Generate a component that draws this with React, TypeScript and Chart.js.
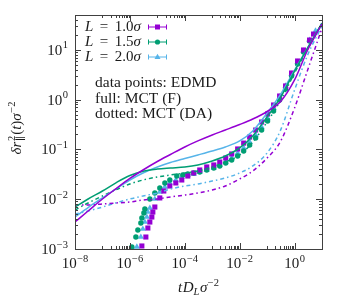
import React, { useEffect, useRef } from "react";
import { Chart, registerables } from "chart.js";

Chart.register(...registerables);

const X_MIN = 1e-8;
const X_MAX = 10;
const Y_MIN = 1e-3;
const Y_MAX = 50;
const X_TICK_EXPONENTS = [-8, -6, -4, -2, 0];
const Y_TICK_EXPONENTS = [-3, -2, -1, 0, 1];
const SERIES_LABELS = ["1.0", "1.5", "2.0"];
const COLORS = ["#9400d3", "#009e73", "#56b4e9"];
const POINT_STYLES = ["rect", "circle", "triangle"];
const NOTES = ["data points: EDMD", "full: MCT (F)", "dotted: MCT (DA)"];

// MCT curves (common time grid)
const tMCT = [1e-8, 3e-8, 1e-7, 3e-7, 1e-6, 3e-6, 1e-5, 3e-5, 1e-4, 3e-4, 1e-3, 3e-3, 1e-2, 3e-2, 1e-1, 3e-1, 1, 3, 10];
const mctF_L10 = [3.48e-3, 5.79e-3, 1.01e-2, 1.6e-2, 2.61e-2, 3.86e-2, 5.71e-2, 7.9e-2, 0.112, 0.148, 0.195, 0.245, 0.316, 0.407, 0.577, 0.895, 2.48, 9.9, 33.0];
const mctF_L15 = [6.96e-3, 1.01e-2, 1.46e-2, 2.11e-2, 3.0e-2, 3.65e-2, 4.04e-2, 4.24e-2, 4.44e-2, 4.87e-2, 5.85e-2, 7.36e-2, 0.107, 0.186, 0.448, 1.08, 3.75, 10.9, 34.5];
const mctF_L20 = [4.4e-3, 6.81e-3, 1.06e-2, 1.6e-2, 2.43e-2, 3.36e-2, 4.44e-2, 5.46e-2, 6.57e-2, 7.73e-2, 9.29e-2, 0.112, 0.148, 0.234, 0.538, 1.24, 3.93, 10.9, 34.5];
const mctDA_L10 = [7.65e-3, 7.65e-3, 8.02e-3, 8.39e-3, 8.79e-3, 9.64e-3, 1.01e-2, 1.11e-2, 1.21e-2, 1.33e-2, 1.53e-2, 1.84e-2, 2.55e-2, 3.68e-2, 6.71e-2, 0.141, 0.678, 3.93, 27.4];
const mctDA_L15 = [6.07e-3, 8.39e-3, 1.16e-2, 1.53e-2, 2.02e-2, 2.43e-2, 2.79e-2, 3.06e-2, 3.36e-2, 3.68e-2, 4.44e-2, 5.58e-2, 7.73e-2, 0.141, 0.355, 0.937, 3.42, 10.4, 34.5];
const mctDA_L20 = [5.05e-3, 5.79e-3, 6.96e-3, 8.39e-3, 1.01e-2, 1.16e-2, 1.33e-2, 1.6e-2, 1.84e-2, 2.02e-2, 2.32e-2, 2.67e-2, 3.36e-2, 4.65e-2, 8.47e-2, 0.234, 1.56, 7.87, 30.1];

// EDMD data points
const tEDMD_L10 = [2.73e-6, 3.82e-6, 4.52e-6, 5.33e-6, 6.31e-6, 6.86e-6, 8.11e-6, 1.23e-5, 1.72e-5, 2.85e-5, 4.71e-5, 7.78e-5, 1.29e-4, 2.12e-4, 3.51e-4, 6.31e-4, 1.14e-3, 1.88e-3, 3.1e-3, 5.12e-3, 8.45e-3, 1.4e-2, 2.31e-2, 3.82e-2, 6.31e-2, 0.104, 0.172, 0.285, 0.471, 0.778, 1.29, 2.12, 3.51, 4.91];
const yEDMD_L10 = [1.15e-3, 1.74e-3, 2.64e-3, 3.48e-3, 4.39e-3, 5.53e-3, 6.97e-3, 1.06e-2, 1.46e-2, 1.84e-2, 2.12e-2, 2.43e-2, 2.92e-2, 3.36e-2, 3.86e-2, 4.44e-2, 4.87e-2, 5.58e-2, 6.72e-2, 8.09e-2, 0.102, 0.134, 0.177, 0.245, 0.355, 0.514, 0.779, 1.18, 1.88, 3.42, 5.96, 9.91, 15.7, 20.7];
const tEDMD_L15 = [1.18e-6, 1.65e-6, 1.95e-6, 2.51e-6, 2.73e-6, 3.23e-6, 3.51e-6, 5.33e-6, 8.11e-6, 1.23e-5, 1.88e-5, 2.85e-5, 5.12e-5, 8.45e-5, 1.29e-4, 2.12e-4, 3.51e-4, 6.31e-4, 1.14e-3, 1.88e-3, 3.1e-3, 5.12e-3, 8.45e-3, 1.4e-2, 2.31e-2, 3.82e-2, 6.31e-2, 0.104, 0.172, 0.285, 0.471, 0.778, 1.29, 2.12, 3.51];
const yEDMD_L15 = [1.1e-3, 1.74e-3, 2.41e-3, 3.33e-3, 4.19e-3, 5.28e-3, 6.35e-3, 1.01e-2, 1.33e-2, 1.68e-2, 2.12e-2, 2.43e-2, 2.92e-2, 3.06e-2, 3.21e-2, 3.36e-2, 3.52e-2, 3.86e-2, 4.24e-2, 4.65e-2, 5.33e-2, 6.12e-2, 7.36e-2, 9.29e-2, 0.122, 0.169, 0.245, 0.372, 0.59, 0.982, 1.63, 2.98, 5.19, 9.04, 15.0];
const tEDMD_L20 = [1.8e-6, 2.51e-6, 2.97e-6, 3.51e-6, 4.15e-6, 4.52e-6, 5.33e-6, 8.11e-6, 1.23e-5, 1.88e-5, 2.85e-5, 4.71e-5, 7.78e-5, 1.29e-4, 2.12e-4, 3.51e-4, 6.31e-4, 1.14e-3, 1.88e-3, 3.1e-3, 5.12e-3, 8.45e-3, 1.4e-2, 2.31e-2, 3.82e-2, 6.31e-2, 0.104, 0.172, 0.285, 0.471, 0.778, 1.29, 2.12, 3.51, 5.8];
const yEDMD_L20 = [1.1e-3, 1.74e-3, 2.52e-3, 3.48e-3, 4.39e-3, 5.53e-3, 6.66e-3, 1.01e-2, 1.4e-2, 1.76e-2, 2.12e-2, 2.43e-2, 2.79e-2, 3.06e-2, 3.21e-2, 3.52e-2, 3.86e-2, 4.24e-2, 4.87e-2, 5.58e-2, 6.72e-2, 8.47e-2, 0.107, 0.141, 0.195, 0.282, 0.427, 0.678, 1.13, 1.88, 3.27, 5.69, 9.47, 15.7, 23.9];

const FAMILY = '"Liberation Serif", "DejaVu Serif", serif';
const RM = (s: number) => `${s}px ${FAMILY}`;
const IT = (s: number) => `italic ${s}px ${FAMILY}`;
const TEXT = "#1a1a1a";
const AXIS = "#404040";

type Seg = { t: string; f: string; dy?: number; stack?: boolean; gap?: number };

function richWidth(ctx: CanvasRenderingContext2D, segs: Seg[]) {
  let w = 0;
  for (const s of segs) {
    ctx.font = s.f;
    if (s.stack) continue;
    w += ctx.measureText(s.t).width + (s.gap || 0);
  }
  return w;
}

function drawRich(ctx: CanvasRenderingContext2D, segs: Seg[], x: number, y: number) {
  let cx = x;
  for (const s of segs) {
    ctx.font = s.f;
    ctx.fillText(s.t, cx, y + (s.dy || 0));
    if (!s.stack) cx += ctx.measureText(s.t).width + (s.gap || 0);
  }
  return cx - x;
}

function powSegs(e: number): Seg[] {
  const sup = e < 0 ? "\u2212" + Math.abs(e) : String(e);
  return [
    { t: "10", f: RM(15), gap: 0.5 },
    { t: sup, f: RM(10.5), dy: -6.5 },
  ];
}

function pts(t: number[], y: number[]) {
  return t.map((v, i) => ({ x: v, y: y[i] }));
}

function drawMarker(ctx: CanvasRenderingContext2D, style: string, x: number, y: number, color: string) {
  ctx.fillStyle = color;
  ctx.beginPath();
  if (style === "rect") {
    ctx.rect(x - 2.5, y - 2.5, 5, 5);
  } else if (style === "circle") {
    ctx.arc(x, y, 2.6, 0, Math.PI * 2);
  } else {
    ctx.moveTo(x, y - 3.2);
    ctx.lineTo(x + 3, y + 2);
    ctx.lineTo(x - 3, y + 2);
    ctx.closePath();
  }
  ctx.fill();
}

const decorPlugin = {
  id: "decor",
  afterDraw(chart: any) {
    const ctx: CanvasRenderingContext2D = chart.ctx;
    const xs = chart.scales.x;
    const ys = chart.scales.y;
    const { left, right, top, bottom } = chart.chartArea;
    ctx.save();
    ctx.strokeStyle = AXIS;
    ctx.lineWidth = 1;
    ctx.strokeRect(Math.round(left) + 0.5, Math.round(top) + 0.5, Math.round(right - left), Math.round(bottom - top));

    const tick = (px: number, horizontal: boolean, len: number) => {
      ctx.beginPath();
      const p = Math.round(px) + 0.5;
      if (horizontal) {
        ctx.moveTo(p, bottom);
        ctx.lineTo(p, bottom - len);
        ctx.moveTo(p, top);
        ctx.lineTo(p, top + len);
      } else {
        ctx.moveTo(left, p);
        ctx.lineTo(left + len, p);
        ctx.moveTo(right, p);
        ctx.lineTo(right - len, p);
      }
      ctx.stroke();
    };
    for (const e of X_TICK_EXPONENTS) tick(xs.getPixelForValue(Math.pow(10, e)), true, 6);
    for (let e = -7; e <= 1; e += 2) {
      for (let k = 1; k <= 9; k++) {
        const v = k * Math.pow(10, e);
        if (v > X_MIN && v < X_MAX) tick(xs.getPixelForValue(v), true, 3);
      }
    }
    for (const e of Y_TICK_EXPONENTS) tick(ys.getPixelForValue(Math.pow(10, e)), false, 6);
    for (let e = -3; e <= 1; e++) {
      for (let k = 2; k <= 9; k++) {
        const v = k * Math.pow(10, e);
        if (v > Y_MIN && v < Y_MAX) tick(ys.getPixelForValue(v), false, 3);
      }
    }

    ctx.fillStyle = TEXT;
    ctx.textBaseline = "alphabetic";
    ctx.textAlign = "left";
    for (const e of X_TICK_EXPONENTS) {
      const segs = powSegs(e);
      const w = richWidth(ctx, segs);
      const px = xs.getPixelForValue(Math.pow(10, e));
      drawRich(ctx, segs, px - w / 2, bottom + 19);
    }
    for (const e of Y_TICK_EXPONENTS) {
      const segs = powSegs(e);
      const w = richWidth(ctx, segs);
      const py = ys.getPixelForValue(Math.pow(10, e));
      drawRich(ctx, segs, left - 7 - w, py + 5);
    }
    const xt: Seg[] = [
      { t: "t", f: IT(15), gap: 0.5 },
      { t: "D", f: IT(15) },
      { t: "L", f: IT(10.5), dy: 3, gap: 0.5 },
      { t: "\u03c3", f: IT(15), gap: 0.5 },
      { t: "\u22122", f: RM(10.5), dy: -6.5 },
    ];
    const xw = richWidth(ctx, xt);
    drawRich(ctx, xt, (left + right) / 2 - xw / 2, 292);

    const yt: Seg[] = [
      { t: "\u03b4r", f: IT(15), gap: 0.5 },
      { t: "\u2225", f: RM(10.5), dy: 3, stack: true },
      { t: "2", f: RM(10.5), dy: -6.5, gap: 1 },
      { t: "(", f: RM(15) },
      { t: "t", f: IT(15) },
      { t: ")", f: RM(15) },
      { t: "\u03c3", f: IT(15), gap: 0.5 },
      { t: "\u22122", f: RM(10.5), dy: -6.5 },
    ];
    const yw = richWidth(ctx, yt);
    ctx.save();
    ctx.translate(21, 128);
    ctx.rotate(-Math.PI / 2);
    drawRich(ctx, yt, -yw / 2, 0);
    ctx.restore();

    const baselines = [31, 46, 61];
    SERIES_LABELS.forEach((lab, i) => {
      ctx.fillStyle = TEXT;
      const segs: Seg[] = [
        { t: "L", f: IT(15), gap: 6.5 },
        { t: "=", f: RM(15), gap: 6.5 },
        { t: lab, f: RM(15) },
        { t: "\u03c3", f: IT(15) },
      ];
      drawRich(ctx, segs, 85, baselines[i]);
      const yc = baselines[i] - 4.5;
      ctx.strokeStyle = COLORS[i];
      ctx.lineWidth = 1;
      ctx.beginPath();
      ctx.moveTo(148, yc + 0.5);
      ctx.lineTo(167, yc + 0.5);
      ctx.moveTo(148.5, yc - 2);
      ctx.lineTo(148.5, yc + 3);
      ctx.moveTo(166.5, yc - 2);
      ctx.lineTo(166.5, yc + 3);
      ctx.stroke();
      drawMarker(ctx, POINT_STYLES[i], 157.5, yc + 0.5, COLORS[i]);
    });
    ctx.fillStyle = TEXT;
    ctx.font = RM(15.5);
    const noteBase = [87, 102.5, 118];
    NOTES.forEach((n, i) => ctx.fillText(n, 95, noteBase[i]));
    ctx.restore();
  },
};

export default function App() {
  const ref = useRef<HTMLCanvasElement>(null);
  useEffect(() => {
    document.body.style.margin = "0";
    const lineDs = (data: number[], color: string, dashed: boolean) => ({
      data: pts(tMCT, data),
      showLine: true,
      borderColor: color,
      backgroundColor: color,
      borderWidth: 1.5,
      borderDash: dashed ? [4, 3, 1.5, 3] : [],
      pointRadius: 0,
      cubicInterpolationMode: "monotone",
      order: 0,
    });
    const pointDs = (t: number[], y: number[], i: number) => ({
      data: pts(t, y),
      showLine: false,
      pointStyle: POINT_STYLES[i],
      pointRadius: i === 1 ? 2.7 : 3.6,
      pointBackgroundColor: COLORS[i],
      pointBorderColor: COLORS[i],
      pointBorderWidth: 0,
      order: 1,
    });
    const chart = new Chart(ref.current as HTMLCanvasElement, {
      type: "scatter",
      data: {
        datasets: [
          pointDs(tEDMD_L10, yEDMD_L10, 0),
          pointDs(tEDMD_L15, yEDMD_L15, 1),
          pointDs(tEDMD_L20, yEDMD_L20, 2),
          lineDs(mctF_L10, COLORS[0], false),
          lineDs(mctF_L15, COLORS[1], false),
          lineDs(mctF_L20, COLORS[2], false),
          lineDs(mctDA_L10, COLORS[0], true),
          lineDs(mctDA_L15, COLORS[1], true),
          lineDs(mctDA_L20, COLORS[2], true),
        ] as any,
      },
      options: {
        animation: false,
        responsive: false,
        devicePixelRatio: 1,
        layout: { padding: { left: 75, top: 15, right: 28, bottom: 51 } },
        plugins: { legend: { display: false }, tooltip: { enabled: false } },
        scales: {
          x: { type: "logarithmic", min: X_MIN, max: X_MAX, display: false },
          y: { type: "logarithmic", min: Y_MIN, max: Y_MAX, display: false },
        },
      },
      plugins: [decorPlugin],
    });
    return () => chart.destroy();
  }, []);
  return (
    <div style={{ width: 350, height: 300 }}>
      <canvas ref={ref} width={350} height={300} style={{ display: "block" }} />
    </div>
  );
}
